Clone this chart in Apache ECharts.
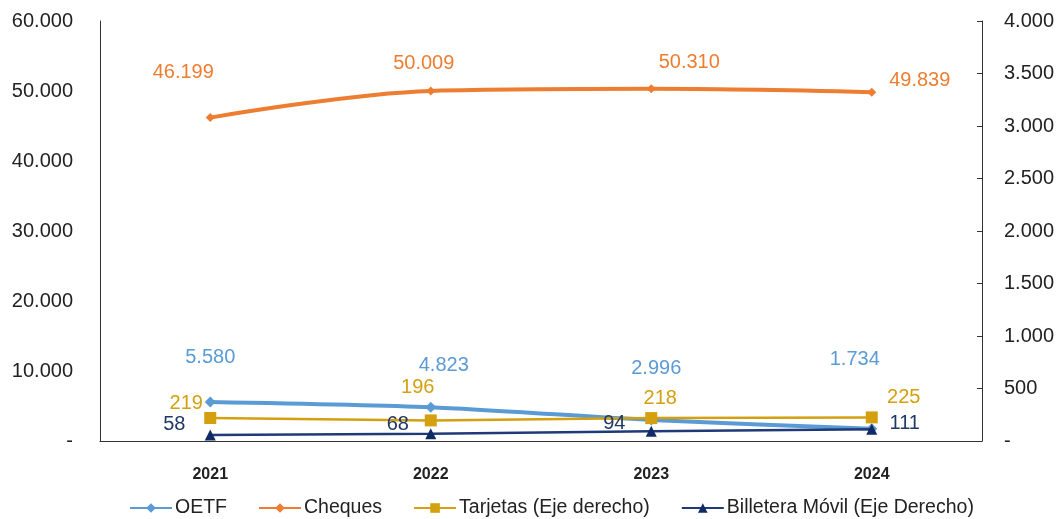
<!DOCTYPE html>
<html>
<head>
<meta charset="utf-8">
<script src="https://cdn.jsdelivr.net/npm/echarts@6/dist/echarts.min.js"></script>
<style>
html,body{margin:0;padding:0;background:#fff;}
#chart{width:1064px;height:519px;}
</style>
</head>
<body>
<div id="chart"></div>
<script>
const categories = ['2021', '2022', '2023', '2024'];
const oetf = [5580, 4823, 2996, 1734];
const cheques = [46199, 50009, 50310, 49839];
const tarjetas = [219, 196, 218, 225];
const billetera = [58, 68, 94, 111];
const seriesNames = ['OETF', 'Cheques', 'Tarjetas (Eje derecho)', 'Billetera Móvil (Eje Derecho)'];

const FONT = '"Liberation Sans", Arial, sans-serif';
function fmt(v) {
  if (v === 0) return '-';
  return String(Math.round(v)).replace(/\B(?=(\d{3})+(?!\d))/g, '.');
}
function withLabels(values, offsets, color) {
  return values.map((v, i) => ({
    value: v,
    label: {
      show: true, position: 'inside', offset: offsets[i],
      color: color, fontSize: 20, fontFamily: FONT,
      formatter: p => fmt(p.value)
    }
  }));
}
const cOETF = '#5B9BD5', cCheq = '#ED7D31', cTarj = '#D4A00F', cBill = '#1F3A78';

const chart = echarts.init(document.getElementById('chart'), null, {renderer: 'canvas'});
chart.setOption({
  animation: false,
  backgroundColor: '#fff',
  grid: {left: 100, right: 82, top: 21, bottom: 78, containLabel: false},
  legend: {
    top: 493, left: 124, itemWidth: 42, itemHeight: 12, itemGap: 31,
    textStyle: {fontSize: 19.5, fontFamily: FONT, color: '#222', padding: [0, 0, 0, -2]},
    data: seriesNames
  },
  xAxis: {
    type: 'category', data: categories, boundaryGap: true,
    axisLine: {lineStyle: {color: '#333', width: 1}},
    axisTick: {show: false},
    axisLabel: {fontSize: 16, fontWeight: 'bold', fontFamily: FONT, color: '#222', margin: 26}
  },
  yAxis: [
    {
      type: 'value', min: 0, max: 60000, interval: 10000, position: 'left',
      axisLine: {show: true, lineStyle: {color: '#333'}},
      axisTick: {show: false}, splitLine: {show: false},
      axisLabel: {fontSize: 20, fontFamily: FONT, color: '#222', margin: 27, formatter: fmt}
    },
    {
      type: 'value', min: 0, max: 4000, interval: 500, position: 'right',
      axisLine: {show: true, lineStyle: {color: '#333'}},
      axisTick: {show: true, inside: true, length: 5, lineStyle: {color: '#333'}},
      splitLine: {show: false},
      axisLabel: {fontSize: 20, fontFamily: FONT, color: '#222', margin: 22, formatter: fmt}
    }
  ],
  series: [
    {
      name: seriesNames[0], type: 'line', yAxisIndex: 0, smooth: 0.25,
      symbol: 'diamond', symbolSize: 11, z: 3,
      lineStyle: {color: cOETF, width: 4}, itemStyle: {color: cOETF},
      data: withLabels(oetf, [[0, -44], [13, -42], [5, -52], [-17, -69]], cOETF)
    },
    {
      name: seriesNames[1], type: 'line', yAxisIndex: 0, smooth: 0.35,
      symbol: 'diamond', symbolSize: 9, z: 3,
      lineStyle: {color: cCheq, width: 4}, itemStyle: {color: cCheq},
      data: withLabels(cheques, [[-27, -45], [-7, -27], [38, -26], [48, -12]], cCheq)
    },
    {
      name: seriesNames[2], type: 'line', yAxisIndex: 1,
      symbol: 'rect', symbolSize: 12, z: 4,
      lineStyle: {color: cTarj, width: 2.5}, itemStyle: {color: cTarj},
      data: withLabels(tarjetas, [[-24, -15], [-13, -33], [9, -20], [32, -20]], cTarj)
    },
    {
      name: seriesNames[3], type: 'line', yAxisIndex: 1,
      symbol: 'triangle', symbolSize: 11, z: 5,
      lineStyle: {color: cBill, width: 2.5}, itemStyle: {color: '#102A66'},
      data: withLabels(billetera, [[-36, -10], [-33, -9], [-37, -8], [33, -6]], '#203864')
    }
  ]
});
</script>
</body>
</html>
